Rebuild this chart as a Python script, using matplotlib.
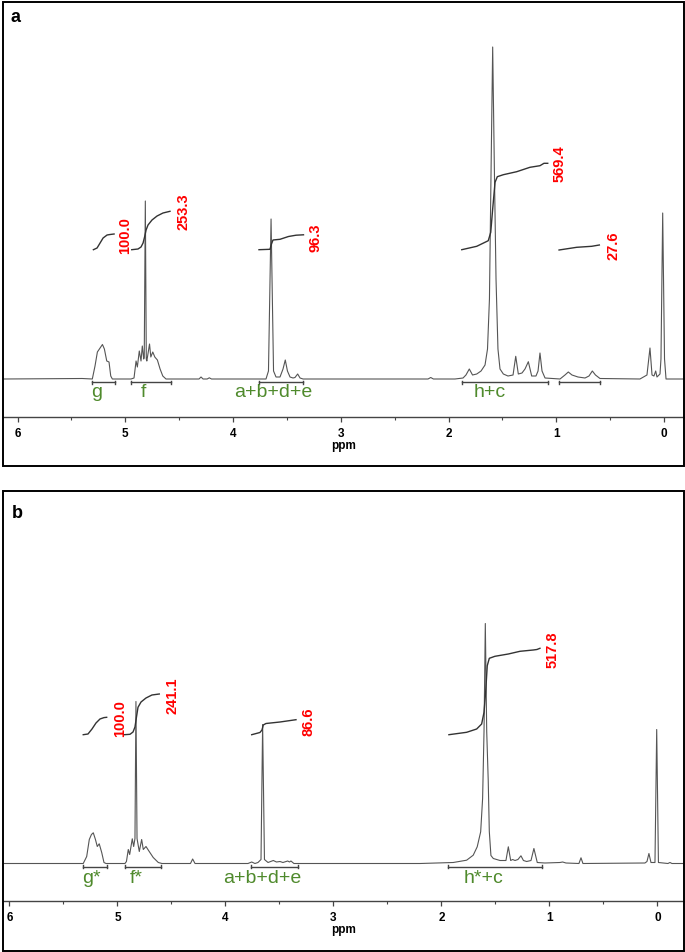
import matplotlib.pyplot as plt
from matplotlib.patches import Rectangle

plt.rcParams['font.family'] = ['Liberation Sans', 'DejaVu Sans']

# ---- panel a: 1H NMR trace (ppm, intensity a.u.)
ppm_a = [6.13, 5.40, 5.306, 5.281, 5.259, 5.234, 5.212, 5.194, 5.172, 5.151, 5.135, 5.120,
         4.947, 4.919, 4.900, 4.888, 4.870, 4.854, 4.842, 4.829, 4.824, 4.814, 4.805, 4.800,
         4.775, 4.763, 4.745, 4.726, 4.702, 4.677, 4.652, 4.622,
         4.316, 4.297, 4.278, 4.24, 4.22, 4.20,
         3.694, 3.671, 3.647, 3.624, 3.601, 3.564, 3.536, 3.515, 3.495, 3.471, 3.443, 3.425,
         3.400, 3.378, 3.350, 2.19, 2.165, 2.14,
         1.940, 1.865, 1.838, 1.807, 1.777, 1.738, 1.698, 1.661, 1.638, 1.620, 1.606, 1.590,
         1.573, 1.559, 1.541, 1.522, 1.491, 1.448, 1.401, 1.376, 1.352, 1.318, 1.290, 1.259,
         1.228, 1.188, 1.169, 1.151, 1.132, 1.104, 0.965, 0.919, 0.888, 0.854, 0.798, 0.733,
         0.696, 0.665, 0.636, 0.594, 0.223, 0.158, 0.130, 0.111, 0.093, 0.077, 0.065, 0.037,
         0.028, 0.012, -0.005, -0.019, -0.183]
int_a = [0, 0.5, 0, 13, 27, 31, 34.5, 30, 18, 17, 3, 0,
         0, 1, 18, 12, 28, 18, 33, 20, 22, 178, 20, 18,
         35, 22, 27, 22, 19, 10, 3, 0,
         0, 2, 0, 0, 1.2, 0,
         0, 8, 160, 8, 2, 2, 10, 19, 8, 2, 1, 1.5,
         5, 1, 0, 0, 1.5, 0,
         0, 1, 4, 10, 4, 5, 8, 14, 30, 80, 200, 332,
         200, 100, 30, 10, 5, 3, 4, 22.7, 5, 6, 10, 17.3,
         3, 3, 8, 26, 8, 1, 0, 4, 7, 4, 2, 1,
         3, 8, 4, 0.5, 0, 4, 31, 4, 3, 8, 2, 5,
         20, 166, 20, 0, 0]

# integral curves panel a
integ_a_ppm = [[5.296, 5.262, 5.234, 5.206, 5.169, 5.141, 5.104],
               [4.940, 4.882, 4.854, 4.835, 4.821, 4.807, 4.789, 4.752, 4.705, 4.650, 4.585],
               [3.759, 3.657, 3.643, 3.629, 3.564, 3.485, 3.415, 3.346],
               [1.877, 1.738, 1.631, 1.608, 1.590, 1.568, 1.547, 1.491, 1.367, 1.244, 1.151, 1.114, 1.079],
               [0.974, 0.810, 0.671, 0.600]]
integ_a_val = [[129.3, 131, 136, 141, 144, 144.5, 145],
               [129.3, 130, 132, 136, 142, 149, 154, 159, 163, 166, 167.7],
               [129.3, 129.7, 135, 139, 139.7, 142.5, 143.8, 144.2],
               [129.3, 132.7, 138.3, 146.7, 170, 196.7, 202.3, 204.3, 207.3, 211.7, 213.3, 215.7, 215.7],
               [129, 131.7, 132.7, 134]]
integ_a_text = ['100.0', '253.3', '96.3', '569.4', '27.6']
ranges_a = [(5.306, 5.095), (4.947, 4.578), (3.759, 3.346), (1.877, 1.079), (0.974, 0.594)]
groups_a = ['g', 'f', 'a+b+d+e', 'h+c']

# ---- panel b
ppm_b = [6.06, 5.317, 5.285, 5.261, 5.241, 5.224, 5.204, 5.187, 5.169, 5.146, 5.125, 5.106,
         4.931, 4.917, 4.900, 4.887, 4.863, 4.850, 4.838, 4.829, 4.819, 4.798, 4.776, 4.761,
         4.736, 4.706, 4.669, 4.622, 4.588, 4.324, 4.304, 4.282,
         3.792, 3.757, 3.727, 3.699, 3.671, 3.656, 3.639, 3.606, 3.557, 3.528, 3.495, 3.468,
         3.424, 3.407, 3.394, 3.366,
         2.199, 1.891, 1.767, 1.706, 1.669, 1.637, 1.619, 1.606, 1.594, 1.581, 1.567, 1.557,
         1.542, 1.520, 1.458, 1.403, 1.381, 1.359, 1.341, 1.319, 1.292, 1.264, 1.241, 1.211,
         1.171, 1.144, 1.113, 1.042, 0.903, 0.878, 0.847, 0.727, 0.708, 0.690, 0.116, 0.097,
         0.079, 0.060, 0.023, 0.007, -0.009, -0.097, -0.116, -0.134, -0.243]
int_b = [0, 0, 7, 24, 29, 30.7, 24, 17, 19.7, 11, 1, 0,
         0, 2, 14, 9, 24.7, 17, 25, 162, 25, 12, 24, 14,
         17, 12, 6, 1, 0, 0, 4.5, 0,
         0, 1.5, 0, 1, 4, 139, 4, 1, 3, 1.5, 2, 1,
         2.5, 1.5, 2.5, 0,
         0, 1, 3.3, 8.3, 16.7, 31.7, 65, 132, 240, 132, 83, 32,
         8, 5, 3, 3, 16.7, 3, 4, 3, 4, 7.7, 3, 2,
         3, 15, 1, 0.5, 1, 1.5, 0.5, 0, 5.7, 0, 0.5, 2,
         10, 1, 1, 134, 1, 0, 1, 0, 0]

integ_b_ppm = [[5.317, 5.273, 5.236, 5.199, 5.162, 5.125, 5.100],
               [4.937, 4.884, 4.856, 4.838, 4.824, 4.810, 4.782, 4.736, 4.681, 4.613],
               [3.757, 3.681, 3.662, 3.650, 3.625, 3.495, 3.347],
               [1.931, 1.767, 1.674, 1.628, 1.606, 1.591, 1.576, 1.557, 1.505, 1.381, 1.273, 1.150, 1.116, 1.088]]
integ_b_val = [[128.8, 129.5, 134.5, 140.5, 144.5, 145.9, 146.2],
               [128.8, 129.2, 131.5, 136.5, 146.5, 156.2, 161.5, 165.5, 168.5, 169.5],
               [128.8, 131, 133.5, 138.5, 140, 141.5, 143.8],
               [128.8, 131.2, 134.5, 139.5, 151.2, 171.2, 197.8, 205.2, 207.2, 209.5, 212.2, 213.5, 214, 215.2]]
integ_b_text = ['100.0', '241.1', '86.6', '517.8']
ranges_b = [(5.317, 5.095), (4.933, 4.597), (3.759, 3.333), (1.936, 1.073)]
groups_b = ['g*', 'f*', 'a+b+d+e', 'h*+c']

W, H = 685, 953
fig = plt.figure(figsize=(W / 100, H / 100), dpi=100)

GREEN = '#4f8a2c'


def box(top, bottom):
    fig.patches.append(Rectangle((3 / W, 1 - bottom / H), 680.7 / W, (bottom - top) / H,
                                 transform=fig.transFigure, fill=False, ec='black', lw=1.4))


def panel(top, axis_y, base_y, xlim, ppm, inten, ippm, ival, itext, tpos,
          ranges, groups, gpos):
    ax = fig.add_axes([3 / W, 1 - axis_y / H, 680.7 / W, (axis_y - top) / H])
    ax.set_facecolor('none')
    ax.set_xlim(*xlim)
    ax.set_ylim(base_y - axis_y, base_y - top)
    for s in ['left', 'right', 'top']:
        ax.spines[s].set_visible(False)
    ax.spines['bottom'].set_color('#444444')
    ax.spines['bottom'].set_linewidth(1.0)
    ax.set_yticks([])
    ax.set_xticks([6, 5, 4, 3, 2, 1, 0])
    ax.set_xticks([5.5, 4.5, 3.5, 2.5, 1.5, 0.5], minor=True)
    ax.tick_params(axis='x', which='major', length=3.5, width=0.9, color='#444444',
                   labelsize=8.5, pad=4)
    ax.tick_params(axis='x', which='minor', length=2.5, width=0.8, color='#444444')
    for lab in ax.get_xticklabels():
        lab.set_fontweight('bold')
    ax.set_xlabel('ppm', fontsize=8.5, fontweight='bold', labelpad=0)

    ax.plot(ppm, inten, color='#555555', lw=0.8)
    for xs, ys in zip(ippm, ival):
        ax.plot(xs, ys, color='#333333', lw=1.0)
    for t, (x, y) in zip(itext, tpos):
        ax.text(x, y, t, color='red', fontsize=10.5, fontweight='bold', rotation=90,
                ha='center', va='center')
    for (x0, x1) in ranges:
        ax.plot([x0, x1], [-3, -3], color='#444444', lw=1.0)
        ax.plot([x0, x0], [-4.5, -1.5], color='#444444', lw=1.0)
        ax.plot([x1, x1], [-4.5, -1.5], color='#444444', lw=1.0)
    for g, (x, y) in zip(groups, gpos):
        ax.text(x, y, g, color=GREEN, fontsize=14, ha='center', va='center')
    return ax


# panel a
box(3, 466.7)
panel(3, 417.7, 380, (6.135, -0.183), ppm_a, int_a, integ_a_ppm, integ_a_val, integ_a_text,
      [(5.002, 144), (4.459, 168.5), (3.230, 142), (0.970, 216), (0.473, 134)],
      ranges_a, groups_a, [(5.262, -12.5), (4.831, -12.5), (3.625, -12.5), (1.615, -12.5)])
fig.text(16 / W, 1 - 17.3 / H, 'a', fontsize=13, fontweight='bold', ha='center', va='center')

# panel b
box(491.7, 951.7)
panel(491.7, 901.7, 864.5, (6.06, -0.243), ppm_b, int_b, integ_b_ppm, integ_b_val, integ_b_text,
      [(4.977, 145.5), (4.492, 168.5), (3.227, 142.8), (0.968, 214.5)],
      ranges_b, groups_b, [(5.237, -13.8), (4.824, -13.8), (3.657, -13.8), (1.612, -13.8)])
fig.text(17.5 / W, 1 - 513.3 / H, 'b', fontsize=13, fontweight='bold', ha='center', va='center')

fig.savefig('out.png', dpi=100)
